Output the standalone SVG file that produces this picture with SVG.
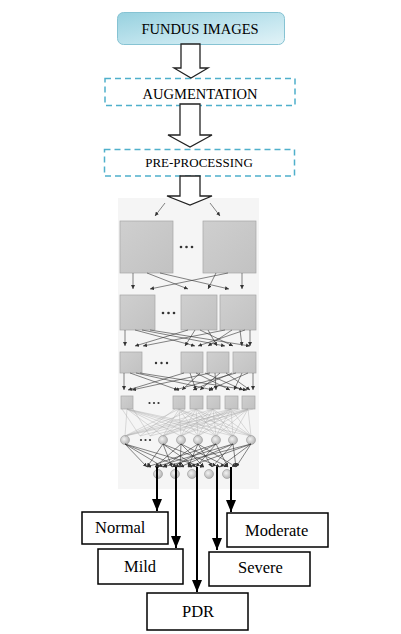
<svg xmlns="http://www.w3.org/2000/svg" width="401" height="634" viewBox="0 0 401 634">
<defs>
<linearGradient id="gTop" x1="0" y1="0" x2="1" y2="1">
<stop offset="0" stop-color="#97d1df"/>
<stop offset="0.6" stop-color="#c4e6ef"/>
<stop offset="1" stop-color="#e2f3f7"/>
</linearGradient>
<linearGradient id="gSq" x1="0" y1="0" x2="1" y2="1">
<stop offset="0" stop-color="#cfcfcf"/>
<stop offset="1" stop-color="#c2c2c2"/>
</linearGradient>
<radialGradient id="gCirc" cx="0.4" cy="0.4" r="0.6">
<stop offset="0" stop-color="#f2f2f2"/>
<stop offset="1" stop-color="#b5b5b5"/>
</radialGradient>
<marker id="sa" viewBox="0 0 6 6" refX="6" refY="3" markerWidth="4" markerHeight="4" markerUnits="userSpaceOnUse" orient="auto">
<path d="M0,0 L6,3 L0,6 z" fill="#333"/>
</marker>
<marker id="ba" viewBox="0 0 10 12" refX="5" refY="12" markerWidth="10" markerHeight="12" markerUnits="userSpaceOnUse" orient="0">
<path d="M0,0 L10,0 L5,12 z" fill="#000"/>
</marker>
</defs>
<style>
.t{fill:#000}
.dash{fill:#fff;stroke:#4fb0cb;stroke-width:1.5;stroke-dasharray:6 4}
.blk{fill:#fff;stroke:#222;stroke-width:1.3;stroke-linejoin:miter}
.sq{fill:url(#gSq);stroke:#a5a5a5;stroke-width:0.7}
.ci{fill:url(#gCirc);stroke:#999;stroke-width:0.6}
.cn{stroke:#333;stroke-width:0.6;fill:none}
.cg{stroke:#aaa;stroke-width:0.4;fill:none}
.out{fill:#fff;stroke:#000;stroke-width:1.5}
.th{stroke:#000;stroke-width:2;fill:none}
.dot{fill:#333}
</style>

<g id="fundus">
<rect x="117.5" y="12.5" width="167" height="32" rx="6" fill="url(#gTop)" stroke="#86c3d3" stroke-width="1"/>
<text class="t" font-family="'Liberation Serif', 'Times New Roman', serif" x="200" y="34" font-size="14.5" text-anchor="middle">FUNDUS IMAGES</text>
</g>

<g id="augmentation">
<rect class="dash" x="105" y="78.5" width="190" height="27"/>
<text class="t" font-family="'Liberation Serif', 'Times New Roman', serif" x="200" y="99" font-size="14.5" text-anchor="middle">AUGMENTATION</text>
</g>

<g id="preprocessing">
<rect class="dash" x="104.5" y="149.5" width="190" height="26.5"/>
<text class="t" font-family="'Liberation Serif', 'Times New Roman', serif" x="199" y="167" font-size="13" text-anchor="middle">PRE-PROCESSING</text>
</g>

<g id="cnn">
<rect x="118" y="198" width="141" height="291" fill="#f5f5f5"/>
<!-- layer 1 -->
<rect class="sq" x="120" y="221" width="53" height="52"/>
<rect class="sq" x="203" y="221" width="53" height="52"/>
<circle class="dot" cx="181" cy="247" r="1.3"/><circle class="dot" cx="186.5" cy="247" r="1.3"/><circle class="dot" cx="192" cy="247" r="1.3"/>
<!-- layer 2 -->
<rect class="sq" x="120" y="295" width="35" height="35"/>
<rect class="sq" x="181" y="295" width="36" height="35"/>
<rect class="sq" x="220" y="295" width="36" height="35"/>
<circle class="dot" cx="163" cy="313" r="1.3"/><circle class="dot" cx="168.5" cy="313" r="1.3"/><circle class="dot" cx="174" cy="313" r="1.3"/>
<!-- layer 3 -->
<rect class="sq" x="120" y="352" width="22" height="21"/>
<rect class="sq" x="181" y="352" width="22" height="21"/>
<rect class="sq" x="207" y="352" width="22" height="21"/>
<rect class="sq" x="233" y="352" width="23" height="21"/>
<circle class="dot" cx="156" cy="363" r="1.2"/><circle class="dot" cx="161.5" cy="363" r="1.2"/><circle class="dot" cx="167" cy="363" r="1.2"/>
<!-- layer 4 -->
<rect class="sq" x="121" y="396" width="12" height="13"/>
<rect class="sq" x="173" y="396" width="12" height="13"/>
<rect class="sq" x="190" y="396" width="13" height="13"/>
<rect class="sq" x="207" y="396" width="13" height="13"/>
<rect class="sq" x="225" y="396" width="13" height="13"/>
<rect class="sq" x="242" y="396" width="13" height="13"/>
<circle class="dot" cx="149.5" cy="403" r="1.1"/><circle class="dot" cx="154" cy="403" r="1.1"/><circle class="dot" cx="158.5" cy="403" r="1.1"/>
<!-- layer 5 -->
<circle class="ci" cx="125" cy="440" r="4.5"/>
<circle class="ci" cx="163" cy="440" r="4.5"/>
<circle class="ci" cx="181" cy="440" r="4.5"/>
<circle class="ci" cx="198" cy="440" r="4.5"/>
<circle class="ci" cx="216" cy="440" r="4.5"/>
<circle class="ci" cx="233" cy="440" r="4.5"/>
<circle class="ci" cx="251" cy="440" r="4.5"/>
<circle class="dot" cx="141" cy="440" r="1.1"/><circle class="dot" cx="145.5" cy="440" r="1.1"/><circle class="dot" cx="150" cy="440" r="1.1"/>
<!-- layer 6 -->
<circle class="ci" cx="158" cy="474" r="4.5"/>
<circle class="ci" cx="175" cy="474" r="4.5"/>
<circle class="ci" cx="192" cy="474" r="4.5"/>
<circle class="ci" cx="209" cy="474" r="4.5"/>
<circle class="ci" cx="227" cy="474" r="4.5"/>
</g>

<g id="normal">
<rect class="out" x="82" y="512" width="86" height="32"/>
<text class="t" font-family="'Liberation Serif', 'Times New Roman', serif" x="95" y="533" font-size="16.5">Normal</text>
</g>
<g id="mild">
<rect class="out" x="98" y="549" width="85" height="35"/>
<text class="t" font-family="'Liberation Serif', 'Times New Roman', serif" x="124" y="572" font-size="16.5">Mild</text>
</g>
<g id="pdr">
<rect class="out" x="147" y="593" width="101" height="37"/>
<text class="t" font-family="'Liberation Serif', 'Times New Roman', serif" x="182" y="617" font-size="16.5">PDR</text>
</g>
<g id="severe">
<rect class="out" x="209" y="552" width="101" height="34"/>
<text class="t" font-family="'Liberation Serif', 'Times New Roman', serif" x="238" y="573" font-size="16.5">Severe</text>
</g>
<g id="moderate">
<rect class="out" x="227" y="513" width="101" height="34"/>
<text class="t" font-family="'Liberation Serif', 'Times New Roman', serif" x="245" y="536" font-size="16.5">Moderate</text>
</g>

<g id="connectors">
<!-- block arrows -->
<path class="blk" d="M181,44 L200,44 L200,68 L208,68 L191,78 L174,68 L181,68 Z"/>
<path class="blk" d="M180,104 L200,104 L200,135 L212,135 L190,147 L168,135 L180,135 Z"/>
<path class="blk" d="M180,176 L200,176 L200,196 L212,196 L190,205 L167,196 L180,196 Z"/>
<!-- into layer 1 -->
<line class="cn" x1="165" y1="203" x2="155" y2="216" marker-end="url(#sa)"/>
<line class="cn" x1="210" y1="203" x2="220" y2="216" marker-end="url(#sa)"/>
<!-- layer1 -> layer2 -->
<line class="cn" x1="133" y1="273" x2="133" y2="289" marker-end="url(#sa)"/>
<line class="cn" x1="147" y1="273" x2="188" y2="289" marker-end="url(#sa)"/>
<line class="cn" x1="160" y1="273" x2="229" y2="289" marker-end="url(#sa)"/>
<line class="cn" x1="228" y1="273" x2="150" y2="289" marker-end="url(#sa)"/>
<line class="cn" x1="216" y1="273" x2="208" y2="289" marker-end="url(#sa)"/>
<line class="cn" x1="242" y1="273" x2="242" y2="289" marker-end="url(#sa)"/>
<!-- layer2 -> layer3 -->
<g>
<line class="cn" x1="125" y1="330" x2="125" y2="346" marker-end="url(#sa)"/>
<line class="cn" x1="135" y1="330" x2="195" y2="346" marker-end="url(#sa)"/>
<line class="cn" x1="142" y1="330" x2="225" y2="346" marker-end="url(#sa)"/>
<line class="cn" x1="150" y1="330" x2="250" y2="346" marker-end="url(#sa)"/>
<line class="cn" x1="188" y1="330" x2="135" y2="346" marker-end="url(#sa)"/>
<line class="cn" x1="195" y1="330" x2="185" y2="346" marker-end="url(#sa)"/>
<line class="cn" x1="200" y1="330" x2="233" y2="346" marker-end="url(#sa)"/>
<line class="cn" x1="208" y1="330" x2="217" y2="346" marker-end="url(#sa)"/>
<line class="cn" x1="225" y1="330" x2="143" y2="346" marker-end="url(#sa)"/>
<line class="cn" x1="232" y1="330" x2="208" y2="346" marker-end="url(#sa)"/>
<line class="cn" x1="240" y1="330" x2="242" y2="346" marker-end="url(#sa)"/>
<line class="cn" x1="250" y1="330" x2="250" y2="346" marker-end="url(#sa)"/>
<line class="cn" x1="245" y1="330" x2="198" y2="346" marker-end="url(#sa)"/>
</g>
<!-- layer3 -> layer4 -->
<g>
<line class="cn" x1="124" y1="373" x2="124" y2="390" marker-end="url(#sa)"/>
<line class="cn" x1="130" y1="373" x2="178" y2="390" marker-end="url(#sa)"/>
<line class="cn" x1="136" y1="373" x2="213" y2="390" marker-end="url(#sa)"/>
<line class="cn" x1="140" y1="373" x2="247" y2="390" marker-end="url(#sa)"/>
<line class="cn" x1="184" y1="373" x2="128" y2="390" marker-end="url(#sa)"/>
<line class="cn" x1="190" y1="373" x2="196" y2="390" marker-end="url(#sa)"/>
<line class="cn" x1="196" y1="373" x2="230" y2="390" marker-end="url(#sa)"/>
<line class="cn" x1="200" y1="373" x2="182" y2="390" marker-end="url(#sa)"/>
<line class="cn" x1="210" y1="373" x2="132" y2="390" marker-end="url(#sa)"/>
<line class="cn" x1="215" y1="373" x2="216" y2="390" marker-end="url(#sa)"/>
<line class="cn" x1="220" y1="373" x2="200" y2="390" marker-end="url(#sa)"/>
<line class="cn" x1="226" y1="373" x2="250" y2="390" marker-end="url(#sa)"/>
<line class="cn" x1="236" y1="373" x2="175" y2="390" marker-end="url(#sa)"/>
<line class="cn" x1="242" y1="373" x2="234" y2="390" marker-end="url(#sa)"/>
<line class="cn" x1="248" y1="373" x2="209" y2="390" marker-end="url(#sa)"/>
<line class="cn" x1="253" y1="373" x2="253" y2="390" marker-end="url(#sa)"/>
<line class="cn" x1="232" y1="373" x2="193" y2="390" marker-end="url(#sa)"/>
<line class="cn" x1="205" y1="373" x2="243" y2="390" marker-end="url(#sa)"/>
</g>
<!-- layer4 -> layer5 (gray full connection) -->
<g>
<path class="cg" d="M127,409 L125,436 M127,409 L163,436 M127,409 L181,436 M127,409 L198,436 M127,409 L216,436 M127,409 L233,436 M127,409 L251,436"/>
<path class="cg" d="M179,409 L125,436 M179,409 L163,436 M179,409 L181,436 M179,409 L198,436 M179,409 L216,436 M179,409 L233,436 M179,409 L251,436"/>
<path class="cg" d="M196,409 L125,436 M196,409 L163,436 M196,409 L181,436 M196,409 L198,436 M196,409 L216,436 M196,409 L233,436 M196,409 L251,436"/>
<path class="cg" d="M213,409 L125,436 M213,409 L163,436 M213,409 L181,436 M213,409 L198,436 M213,409 L216,436 M213,409 L233,436 M213,409 L251,436"/>
<path class="cg" d="M231,409 L125,436 M231,409 L163,436 M231,409 L181,436 M231,409 L198,436 M231,409 L216,436 M231,409 L233,436 M231,409 L251,436"/>
<path class="cg" d="M248,409 L125,436 M248,409 L163,436 M248,409 L181,436 M248,409 L198,436 M248,409 L216,436 M248,409 L233,436 M248,409 L251,436"/>
<path class="cg" d="M122,409 L140,436 M133,409 L150,436 M175,409 L140,436 M185,409 L150,436 M240,409 L140,436 M253,409 L150,436"/>
</g>
<!-- layer5 -> layer6 -->
<g>
<line class="cn" x1="125" y1="444" x2="147" y2="467" marker-end="url(#sa)"/>
<line class="cn" x1="125" y1="444" x2="163" y2="467" marker-end="url(#sa)"/>
<line class="cn" x1="125" y1="444" x2="180" y2="467" marker-end="url(#sa)"/>
<line class="cn" x1="125" y1="444" x2="204" y2="467" marker-end="url(#sa)"/>
<line class="cn" x1="163" y1="444" x2="147" y2="467" marker-end="url(#sa)"/>
<line class="cn" x1="163" y1="444" x2="172" y2="467" marker-end="url(#sa)"/>
<line class="cn" x1="163" y1="444" x2="196" y2="467" marker-end="url(#sa)"/>
<line class="cn" x1="163" y1="444" x2="220" y2="467" marker-end="url(#sa)"/>
<line class="cn" x1="181" y1="444" x2="155" y2="467" marker-end="url(#sa)"/>
<line class="cn" x1="181" y1="444" x2="180" y2="467" marker-end="url(#sa)"/>
<line class="cn" x1="181" y1="444" x2="204" y2="467" marker-end="url(#sa)"/>
<line class="cn" x1="181" y1="444" x2="228" y2="467" marker-end="url(#sa)"/>
<line class="cn" x1="198" y1="444" x2="163" y2="467" marker-end="url(#sa)"/>
<line class="cn" x1="198" y1="444" x2="188" y2="467" marker-end="url(#sa)"/>
<line class="cn" x1="198" y1="444" x2="212" y2="467" marker-end="url(#sa)"/>
<line class="cn" x1="198" y1="444" x2="236" y2="467" marker-end="url(#sa)"/>
<line class="cn" x1="216" y1="444" x2="147" y2="467" marker-end="url(#sa)"/>
<line class="cn" x1="216" y1="444" x2="172" y2="467" marker-end="url(#sa)"/>
<line class="cn" x1="216" y1="444" x2="196" y2="467" marker-end="url(#sa)"/>
<line class="cn" x1="216" y1="444" x2="228" y2="467" marker-end="url(#sa)"/>
<line class="cn" x1="233" y1="444" x2="155" y2="467" marker-end="url(#sa)"/>
<line class="cn" x1="233" y1="444" x2="180" y2="467" marker-end="url(#sa)"/>
<line class="cn" x1="233" y1="444" x2="212" y2="467" marker-end="url(#sa)"/>
<line class="cn" x1="233" y1="444" x2="236" y2="467" marker-end="url(#sa)"/>
<line class="cn" x1="251" y1="444" x2="163" y2="467" marker-end="url(#sa)"/>
<line class="cn" x1="251" y1="444" x2="188" y2="467" marker-end="url(#sa)"/>
<line class="cn" x1="251" y1="444" x2="220" y2="467" marker-end="url(#sa)"/>
<line class="cn" x1="251" y1="444" x2="236" y2="467" marker-end="url(#sa)"/>
</g>
<!-- outputs -->
<line class="th" x1="157" y1="467" x2="157" y2="511" marker-end="url(#ba)"/>
<line class="th" x1="176" y1="467" x2="176" y2="548" marker-end="url(#ba)"/>
<line class="th" x1="197" y1="467" x2="197" y2="592" marker-end="url(#ba)"/>
<line class="th" x1="217" y1="467" x2="217" y2="550" marker-end="url(#ba)"/>
<line class="th" x1="231" y1="467" x2="231" y2="512" marker-end="url(#ba)"/>
</g>
</svg>
